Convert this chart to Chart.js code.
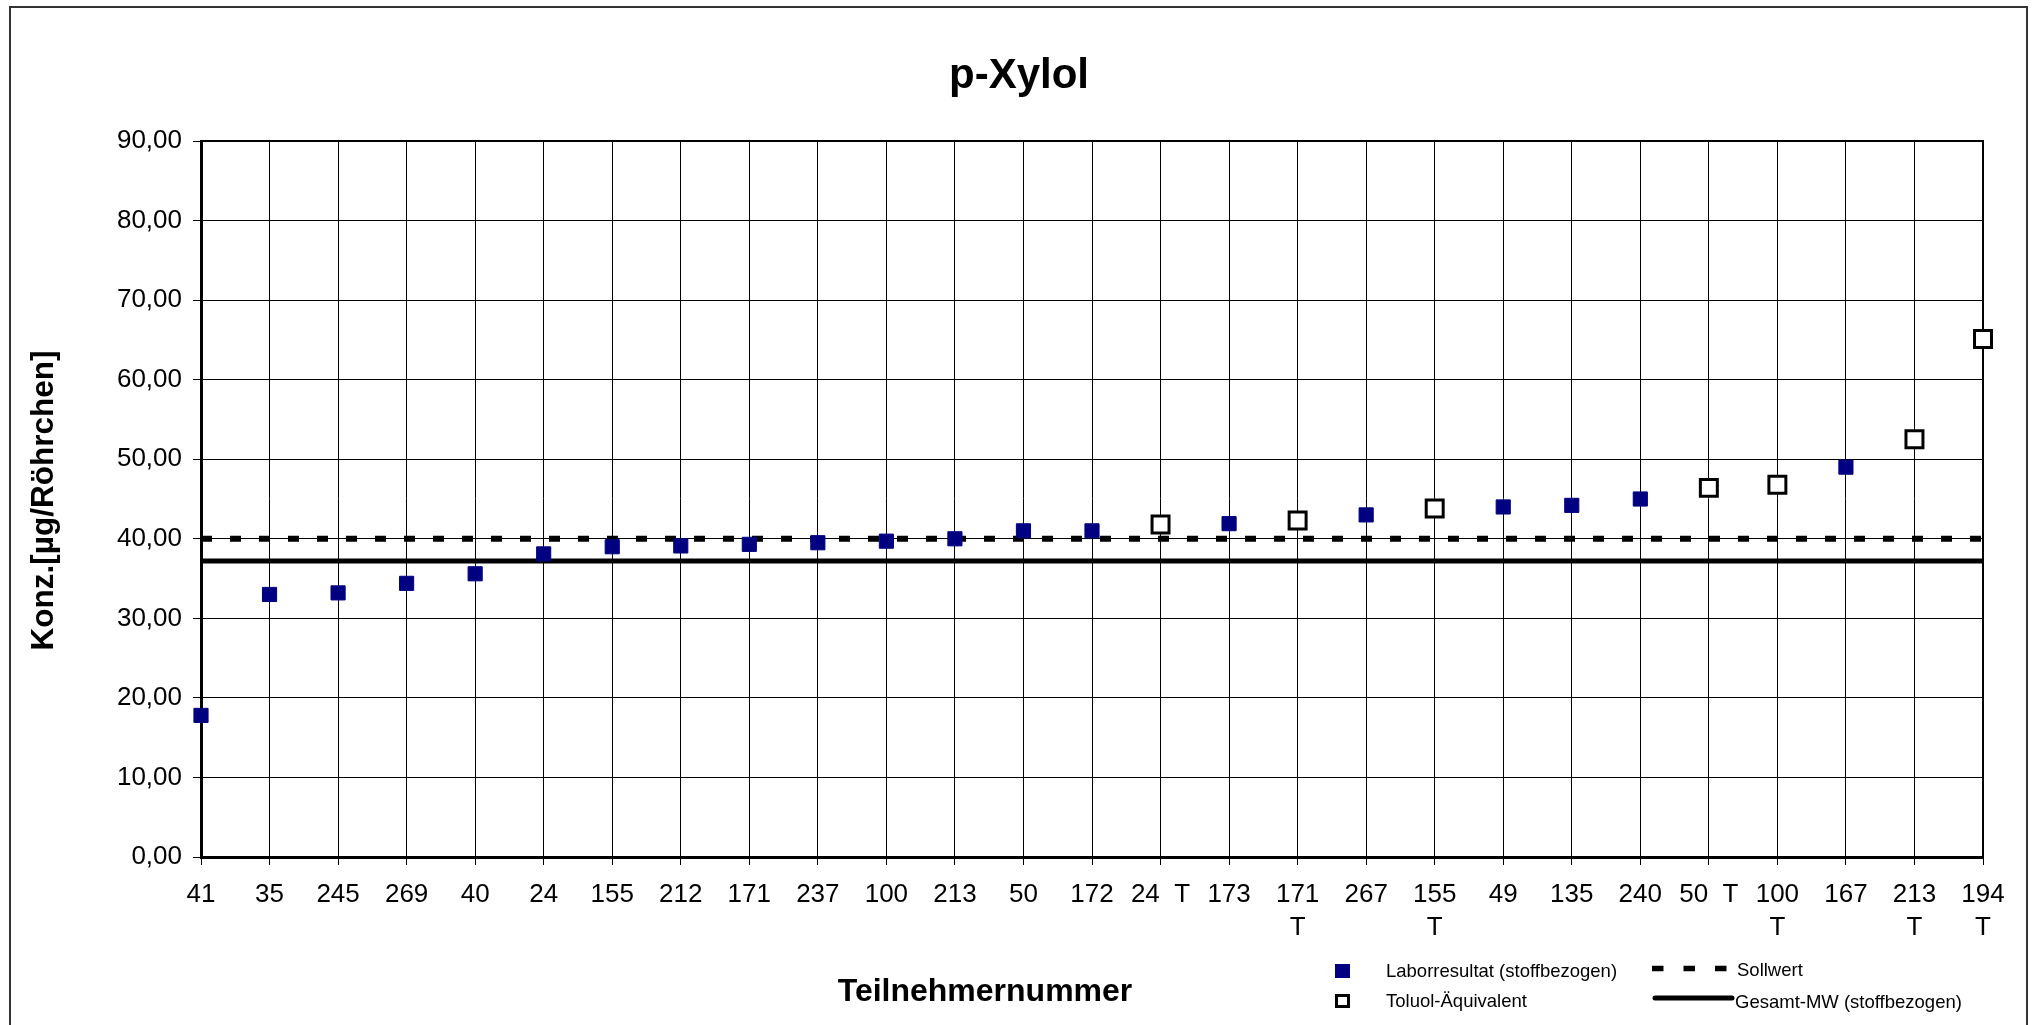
<!DOCTYPE html>
<html>
<head>
<meta charset="utf-8">
<style>
  html, body { margin: 0; padding: 0; background: #ffffff; }
  canvas { display: block; }
</style>
<script src="https://cdn.jsdelivr.net/npm/chart.js@4.4.1/dist/chart.umd.min.js"></script>
</head>
<body>
<canvas id="c" width="2035" height="1025"></canvas>
<script>
// ---------- data ----------
const categories = [
  '41', '35', '245', '269', '40', '24', '155', '212', '171', '237', '100', '213', '50', '172',
  '24  T', '173', ['171', 'T'], '267', ['155', 'T'], '49', '135', '240', '50  T',
  ['100', 'T'], '167', ['213', 'T'], ['194', 'T']
];
// Laborresultat (stoffbezogen) – filled squares
const labResults = [
  17.8, 33.0, 33.2, 34.4, 35.6, 38.1, 39.0, 39.1, 39.3, 39.5, 39.7, 40.0, 41.0, 41.0,
  null, 41.9, null, 43.0, null, 44.0, 44.2, 45.0, null,
  null, 49.0, null, null
];
// Toluol-Äquivalent – open squares
const toluolValues = [
  null, null, null, null, null, null, null, null, null, null, null, null, null, null,
  41.8, null, 42.3, null, 43.8, null, null, null, 46.4,
  46.8, null, 52.5, 65.1
];
const sollwert = 40.0;   // Sollwert
const gesamtMW = 37.2;   // Gesamt-MW (stoffbezogen)
const yMin = 0, yMax = 90, yStep = 10;

const chartTitle = 'p-Xylol';
const xTitle = 'Teilnehmernummer';
const yTitle = 'Konz.[µg/Röhrchen]';
const seriesNames = ['Laborresultat (stoffbezogen)', 'Toluol-Äquivalent', 'Sollwert', 'Gesamt-MW (stoffbezogen)'];

// ---------- styling ----------
const FONT = "'Liberation Sans', Arial, Helvetica, sans-serif";
const NAVY = '#000080';
Chart.defaults.font.family = FONT;
Chart.defaults.color = '#000000';

const decor = {
  id: 'decor',
  beforeDraw(chart) {
    const ctx = chart.ctx;
    ctx.save();
    ctx.fillStyle = '#ffffff';
    ctx.fillRect(0, 0, chart.width, chart.height);
    ctx.restore();
  },
  beforeDatasetsDraw(chart) {
    const { ctx, chartArea: a } = chart;
    ctx.save();
    ctx.strokeStyle = '#000000';
    ctx.lineWidth = 2;
    ctx.beginPath();
    ctx.moveTo(a.left, a.top);
    ctx.lineTo(a.right, a.top);
    ctx.lineTo(a.right, a.bottom);
    ctx.stroke();
    ctx.restore();
  },
  afterDraw(chart) {
    const ctx = chart.ctx;
    ctx.save();
    // outer frame
    ctx.strokeStyle = '#333333';
    ctx.lineWidth = 2;
    ctx.strokeRect(10, 7, 2017, 1040);

    ctx.fillStyle = '#000000';
    // chart title
    ctx.font = 'bold 42px ' + FONT;
    ctx.textAlign = 'center';
    ctx.textBaseline = 'alphabetic';
    ctx.fillText(chartTitle, 1019, 88);

    // y axis title
    ctx.save();
    ctx.font = 'bold 31.5px ' + FONT;
    ctx.textAlign = 'center';
    ctx.textBaseline = 'alphabetic';
    ctx.translate(53, 500.5);
    ctx.rotate(-Math.PI / 2);
    ctx.fillText(yTitle, 0, 0);
    ctx.restore();

    // x axis title
    ctx.font = 'bold 32px ' + FONT;
    ctx.textAlign = 'center';
    ctx.textBaseline = 'alphabetic';
    ctx.fillText(xTitle, 985, 1001);

    // legend
    ctx.font = '18.5px ' + FONT;
    ctx.textAlign = 'left';
    ctx.fillStyle = NAVY;
    ctx.fillRect(1335, 964, 15, 14);
    ctx.strokeStyle = '#000000';
    ctx.lineWidth = 3;
    ctx.strokeRect(1336.5, 995.5, 12, 11);
    ctx.fillStyle = '#000000';
    ctx.fillText(seriesNames[0], 1386, 977);
    ctx.fillText(seriesNames[1], 1386, 1007);
    ctx.lineWidth = 5.5;
    ctx.lineCap = 'butt';
    ctx.setLineDash([11.5, 20]);
    ctx.beginPath();
    ctx.moveTo(1652, 968.5);
    ctx.lineTo(1727, 968.5);
    ctx.stroke();
    ctx.setLineDash([]);
    ctx.fillText(seriesNames[2], 1737, 976);
    ctx.lineWidth = 5;
    ctx.lineCap = 'round';
    ctx.beginPath();
    ctx.moveTo(1655, 998);
    ctx.lineTo(1732, 998);
    ctx.stroke();
    ctx.fillText(seriesNames[3], 1735, 1008);
    ctx.restore();
  }
};

new Chart(document.getElementById('c'), {
  type: 'line',
  data: {
    labels: categories,
    datasets: [
      {
        label: seriesNames[0],
        data: labResults,
        showLine: false,
        pointStyle: 'rect',
        pointRadius: 10,
        pointBackgroundColor: NAVY,
        pointBorderColor: NAVY,
        pointBorderWidth: 1,
        clip: false
      },
      {
        label: seriesNames[1],
        data: toluolValues,
        showLine: false,
        pointStyle: 'rect',
        pointRadius: 12,
        pointBackgroundColor: '#ffffff',
        pointBorderColor: '#000000',
        pointBorderWidth: 3,
        clip: false
      },
      {
        label: seriesNames[2],
        data: categories.map(() => sollwert),
        borderColor: '#000000',
        borderWidth: 6,
        borderDash: [11, 18],
        borderCapStyle: 'butt',
        pointRadius: 0,
        fill: false,
        tension: 0
      },
      {
        label: seriesNames[3],
        data: categories.map(() => gesamtMW),
        borderColor: '#000000',
        borderWidth: 5,
        pointRadius: 0,
        fill: false,
        tension: 0
      }
    ]
  },
  options: {
    responsive: false,
    devicePixelRatio: 1,
    animation: false,
    events: [],
    layout: { padding: { left: 0, right: 52, top: 141, bottom: 0 } },
    plugins: {
      legend: { display: false },
      tooltip: { enabled: false },
      title: { display: false }
    },
    scales: {
      x: {
        type: 'category',
        offset: false,
        grid: { display: true, color: '#000000', lineWidth: 1, drawTicks: true, tickLength: 8, tickColor: '#000000' },
        border: { display: true, color: '#000000', width: 3 },
        ticks: {
          autoSkip: false,
          maxRotation: 0,
          minRotation: 0,
          padding: 13.5,
          color: '#000000',
          font: { family: FONT, size: 26, lineHeight: 1.27 }
        },
        afterFit(scale) { scale.height = 168; }
      },
      y: {
        type: 'linear',
        min: yMin,
        max: yMax,
        grid: { display: true, color: '#000000', lineWidth: 1, drawTicks: true, tickLength: 8, tickColor: '#000000' },
        border: { display: true, color: '#000000', width: 3 },
        ticks: {
          stepSize: yStep,
          padding: 11,
          color: '#000000',
          font: { family: FONT, size: 26 },
          callback: (v) => Number(v).toFixed(2).replace('.', ',')
        },
        afterFit(scale) { scale.width = 201; }
      }
    }
  },
  plugins: [decor]
});
</script>
</body>
</html>
